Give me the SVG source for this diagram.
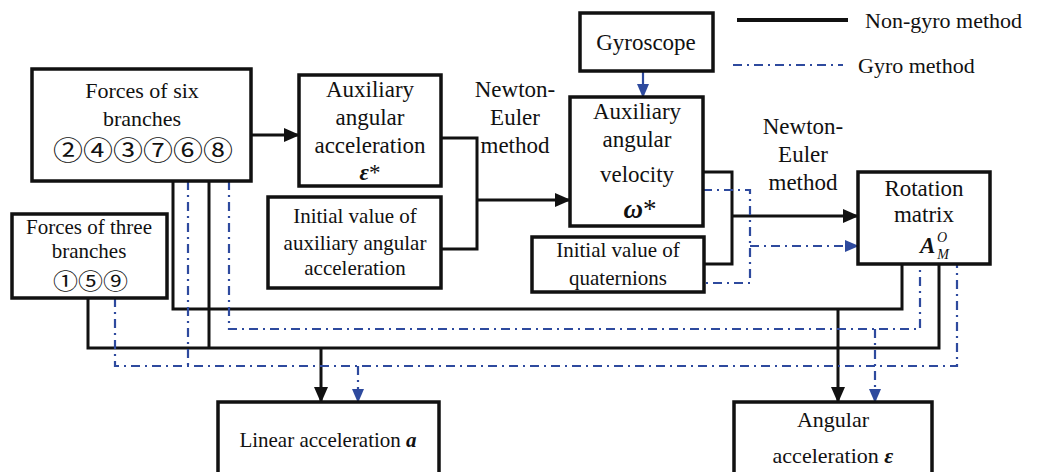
<svg xmlns="http://www.w3.org/2000/svg" width="1037" height="472" viewBox="0 0 1037 472">
<style>
.box{fill:#fff;stroke:#111;stroke-width:3.5}
.t{font-family:"Liberation Serif","Times New Roman",serif;fill:#111;text-anchor:middle}
.s21{font-size:21px}
.s22{font-size:22px}
.s23{font-size:23px}
.circ{font-family:"Noto Sans CJK SC","DejaVu Sans",sans-serif;fill:#111}
.k{fill:none;stroke:#111;stroke-width:3}
.b{fill:none;stroke:#2e4a9e;stroke-width:2.2;stroke-dasharray:9 5 2 5}
.bi{font-weight:bold;font-style:italic}
</style>
<defs>
<marker id="ak" markerUnits="userSpaceOnUse" markerWidth="16" markerHeight="14" refX="15" refY="7" orient="auto"><path d="M0,0 L16,7 L0,14 Z" fill="#111"/></marker>
<marker id="ab" markerUnits="userSpaceOnUse" markerWidth="14" markerHeight="12" refX="13" refY="6" orient="auto"><path d="M0,0 L14,6 L0,12 Z" fill="#2e4a9e"/></marker>
</defs>

<g id="legend">
<line x1="737" y1="20" x2="848" y2="20" stroke="#111" stroke-width="4"/>
<text class="t s22" x="865" y="28" style="text-anchor:start">Non-gyro method</text>
<line x1="733" y1="65" x2="843" y2="65" class="b"/>
<text class="t s22" x="858" y="73" style="text-anchor:start">Gyro method</text>
</g>

<g id="connectors">
<path class="k" d="M251,135 H299" marker-end="url(#ak)"/>
<path class="k" d="M441,138 H477 V249 H441"/>
<path class="k" d="M477,200 H570" marker-end="url(#ak)"/>
<path class="k" d="M703,172 H732 V264 H704"/>
<path class="k" d="M732,216 H858" marker-end="url(#ak)"/>
<path class="k" d="M173,181 V309 H902 V264"/>
<path class="k" d="M838,309 V402" marker-end="url(#ak)"/>
<path class="k" d="M209,181 V348"/>
<path class="k" d="M88,298 V348 H939 V264"/>
<path class="k" d="M321,348 V402" marker-end="url(#ak)"/>
<path class="b" d="M643,71 V97" marker-end="url(#ab)" style="stroke-dasharray:none"/>
<path class="b" d="M703,190 H750 V283 H704"/>
<path class="b" d="M750,246 H858" marker-end="url(#ab)"/>
<path class="b" d="M188,181 V366"/>
<path class="b" d="M115,298 V366 H957 V264"/>
<path class="b" d="M229,181 V329 H920 V264"/>
<path class="b" d="M358,366 V402" marker-end="url(#ab)"/>
<path class="b" d="M875,329 V402" marker-end="url(#ab)"/>
</g>

<g id="six">
<rect class="box" x="32" y="69" width="219" height="112"/>
<text class="t s22" x="142" y="98">Forces of six</text>
<text class="t s22" x="142" y="126">branches</text>
<text class="circ" x="53" y="160" font-size="26" textLength="180" lengthAdjust="spacingAndGlyphs">②④③⑦⑥⑧</text>
</g>

<g id="three">
<rect class="box" x="12" y="214" width="155" height="84"/>
<text class="t s21" x="89" y="234">Forces of three</text>
<text class="t s21" x="89" y="258">branches</text>
<text class="circ" x="53" y="289" font-size="22" textLength="75" lengthAdjust="spacingAndGlyphs">①⑤⑨</text>
</g>

<g id="auxacc">
<rect class="box" x="299" y="75" width="142" height="111"/>
<text class="t s23" x="370" y="97">Auxiliary</text>
<text class="t s23" x="370" y="125">angular</text>
<text class="t s23" x="370" y="153">acceleration</text>
<text class="t s23" x="370" y="180"><tspan class="bi">ε</tspan>*</text>
</g>

<g id="initaux">
<rect class="box" x="268" y="197" width="173" height="91"/>
<text class="t s21" x="355" y="223">Initial value of</text>
<text class="t s21" x="355" y="250">auxiliary angular</text>
<text class="t s21" x="355" y="275">acceleration</text>
</g>

<g id="ne1">
<text class="t s23" x="515" y="97">Newton-</text>
<text class="t s23" x="515" y="125">Euler</text>
<text class="t s23" x="515" y="153">method</text>
</g>

<g id="gyro">
<rect class="box" x="580" y="13" width="133" height="58"/>
<text class="t s23" x="646" y="50">Gyroscope</text>
</g>

<g id="auxvel">
<rect class="box" x="570" y="97" width="133" height="129"/>
<text class="t s23" x="637" y="119">Auxiliary</text>
<text class="t s23" x="637" y="147">angular</text>
<text class="t s23" x="637" y="182">velocity</text>
<text class="t" x="640" y="218" font-size="27"><tspan class="bi">ω</tspan>*</text>
</g>

<g id="quat">
<rect class="box" x="532" y="237" width="172" height="55"/>
<text class="t s21" x="618" y="257">Initial value of</text>
<text class="t s21" x="618" y="285">quaternions</text>
</g>

<g id="ne2">
<text class="t s23" x="803" y="134">Newton-</text>
<text class="t s23" x="803" y="162">Euler</text>
<text class="t s23" x="803" y="190">method</text>
</g>

<g id="rot">
<rect class="box" x="858" y="172" width="132" height="92"/>
<text class="t s23" x="924" y="196">Rotation</text>
<text class="t s23" x="924" y="222">matrix</text>
<text class="t" x="920" y="253" font-size="23" style="text-anchor:start"><tspan class="bi">A</tspan><tspan font-size="14" font-style="italic" dx="2" dy="6">M</tspan><tspan font-size="14" font-style="italic" dx="-12" dy="-17">O</tspan></text>
</g>

<g id="linacc">
<rect class="box" x="218" y="402" width="221" height="80"/>
<text class="t s21" x="328" y="447">Linear acceleration <tspan class="bi">a</tspan></text>
</g>

<g id="angacc">
<rect class="box" x="734" y="402" width="198" height="80"/>
<text class="t s22" x="833" y="427">Angular</text>
<text class="t s22" x="833" y="463">acceleration <tspan class="bi">ε</tspan></text>
</g>
</svg>
